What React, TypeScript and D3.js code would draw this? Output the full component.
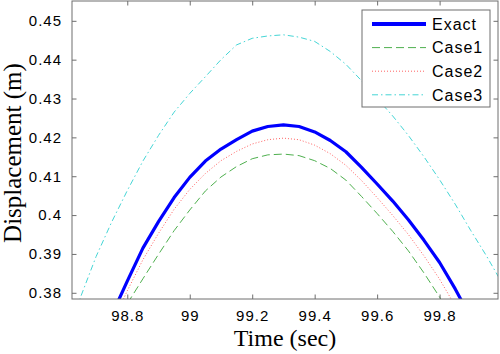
import * as d3 from "d3";
import React, { useEffect, useRef } from "react";

// time samples (sec)
const times = [
  98.6, 98.65, 98.7, 98.75, 98.8, 98.85, 98.9, 98.95, 99.0, 99.05, 99.1, 99.15, 99.2, 99.25, 99.3,
  99.35, 99.4, 99.45, 99.5, 99.55, 99.6, 99.65, 99.7, 99.75, 99.8, 99.85, 99.9, 99.95, 100.0,
];

const exact = [
  0.346, 0.356, 0.365, 0.3742, 0.383, 0.3915, 0.3983, 0.4045, 0.4097, 0.4139, 0.417, 0.4194, 0.4216,
  0.4228, 0.4232, 0.4228, 0.4214, 0.4192, 0.4163, 0.4123, 0.408, 0.4036, 0.3988, 0.3935, 0.3878,
  0.381, 0.3735, 0.366, 0.358,
];

const case1 = [
  0.344, 0.354, 0.362, 0.37, 0.3772, 0.3836, 0.3899, 0.396, 0.4013, 0.4062, 0.4098, 0.4125, 0.4145,
  0.4155, 0.4157, 0.4153, 0.414, 0.412, 0.409, 0.4048, 0.4004, 0.3958, 0.3908, 0.3851, 0.3789,
  0.3725, 0.366, 0.359, 0.352,
];

const case2 = [
  0.342, 0.352, 0.361, 0.3718, 0.3805, 0.3885, 0.3953, 0.4015, 0.4066, 0.4107, 0.414, 0.4164, 0.4183,
  0.4194, 0.4198, 0.4194, 0.418, 0.4158, 0.4128, 0.4089, 0.4045, 0.3999, 0.395, 0.3895, 0.3835,
  0.3766, 0.369, 0.362, 0.354,
];

const case3 = [
  0.366, 0.3788, 0.3893, 0.3982, 0.4063, 0.4139, 0.4205, 0.4265, 0.4313, 0.4356, 0.44, 0.4438, 0.4455,
  0.4461, 0.4464, 0.4458, 0.4447, 0.4421, 0.4388, 0.4346, 0.43, 0.4255, 0.4205, 0.415, 0.4091,
  0.4028, 0.396, 0.3895, 0.3825,
];

const xTicks = [98.8, 99.0, 99.2, 99.4, 99.6, 99.8];
const yTicks = [0.38, 0.39, 0.4, 0.41, 0.42, 0.43, 0.44, 0.45];

const seriesNames = ["Exact", "Case1", "Case2", "Case3"];

const styles = [
  { color: "#0000ff", width: 3.2, dash: "" },
  { color: "#3aa63a", width: 0.9, dash: "8,4" },
  { color: "#ff5050", width: 0.9, dash: "1,2" },
  { color: "#30d0d0", width: 0.9, dash: "6,3,1.5,3" },
];

const App: React.FC = () => {
  const svgRef = useRef<SVGSVGElement>(null);

  useEffect(() => {
    const svg = d3.select(svgRef.current);
    svg.selectAll("*").remove();

    const W = 500;
    const H = 354;
    const margin = { top: 1, right: 2, bottom: 55, left: 72 };
    const width = W - margin.left - margin.right;
    const height = H - margin.top - margin.bottom;

    svg.attr("width", W).attr("height", H);
    svg.append("rect").attr("width", W).attr("height", H).attr("fill", "#fff");

    const g = svg.append("g").attr("transform", `translate(${margin.left},${margin.top})`);

    const x = d3.scaleLinear().domain([98.623, 99.987]).range([0, width]);
    const y = d3.scaleLinear().domain([0.3784, 0.4551]).range([height, 0]);

    g.append("clipPath")
      .attr("id", "plotclip")
      .append("rect")
      .attr("width", width)
      .attr("height", height);

    // curves
    const allSeries = [exact, case1, case2, case3];
    const line = d3
      .line<number>()
      .x((_, i) => x(times[i]))
      .y((d) => y(d));

    [3, 2, 1, 0].forEach((k) => {
      const s = styles[k];
      g.append("path")
        .attr("clip-path", "url(#plotclip)")
        .attr("d", line(allSeries[k]))
        .attr("fill", "none")
        .attr("stroke", s.color)
        .attr("stroke-width", s.width)
        .attr("stroke-dasharray", s.dash || null)
        .attr("stroke-linejoin", "round");
    });

    const fmt = (d: number) => String(+d.toFixed(2));
    const tickFont = "'Liberation Sans', Arial, sans-serif";

    // axes (ticks inward, on all four sides)
    const axisColor = "#6e6e6e";
    const bottom = g
      .append("g")
      .attr("transform", `translate(0,${height})`)
      .call(d3.axisBottom(x).tickValues(xTicks).tickSizeInner(-4.5).tickSizeOuter(0).tickPadding(11).tickFormat((d) => fmt(+d)));
    const left = g
      .append("g")
      .call(d3.axisLeft(y).tickValues(yTicks).tickSizeInner(-4.5).tickSizeOuter(0).tickPadding(10).tickFormat((d) => fmt(+d)));
    const top = g.append("g").call(d3.axisTop(x).tickValues(xTicks).tickSizeInner(-4.5).tickSizeOuter(0).tickFormat(() => ""));
    const right = g
      .append("g")
      .attr("transform", `translate(${width},0)`)
      .call(d3.axisRight(y).tickValues(yTicks).tickSizeInner(-4.5).tickSizeOuter(0).tickFormat(() => ""));

    [bottom, left, top, right].forEach((a) => {
      a.select(".domain").remove();
      a.selectAll("line").attr("stroke", axisColor);
      a.selectAll("text")
        .attr("fill", "#000")
        .style("font-family", tickFont)
        .style("font-size", "15px")
        .style("letter-spacing", "1px");
    });

    g.append("rect")
      .attr("width", width)
      .attr("height", height)
      .attr("fill", "none")
      .attr("stroke", axisColor)
      .attr("stroke-width", 1);

    // axis labels
    svg
      .append("text")
      .attr("x", margin.left + width / 2)
      .attr("y", 346)
      .attr("text-anchor", "middle")
      .style("font-family", "'Liberation Serif', 'Times New Roman', serif")
      .style("font-size", "24px")
      .text("Time (sec)");

    svg
      .append("text")
      .attr("transform", `translate(21,${margin.top + height / 2 + 3}) rotate(-90)`)
      .attr("text-anchor", "middle")
      .style("font-family", "'Liberation Serif', 'Times New Roman', serif")
      .style("font-size", "25px")
      .text("Displacement (m)");

    // legend
    const legend = svg.append("g").attr("transform", "translate(362,10)");
    legend
      .append("rect")
      .attr("width", 128)
      .attr("height", 97)
      .attr("fill", "#fff")
      .attr("stroke", axisColor);
    seriesNames.forEach((name, i) => {
      const ly = 14 + i * 23.6;
      const s = styles[i];
      legend
        .append("line")
        .attr("x1", 10)
        .attr("x2", 64)
        .attr("y1", ly)
        .attr("y2", ly)
        .attr("stroke", s.color)
        .attr("stroke-width", i === 0 ? 4 : s.width)
        .attr("stroke-dasharray", s.dash || null);
      legend
        .append("text")
        .attr("x", 70)
        .attr("y", ly)
        .attr("dy", "0.36em")
        .style("font-family", tickFont)
        .style("font-size", "16px")
        .style("letter-spacing", "1px")
        .text(name);
    });
  }, []);

  return (
    <div style={{ position: "absolute", left: 0, top: 0 }}>
      <svg ref={svgRef} style={{ display: "block" }}></svg>
    </div>
  );
};

export default App;
